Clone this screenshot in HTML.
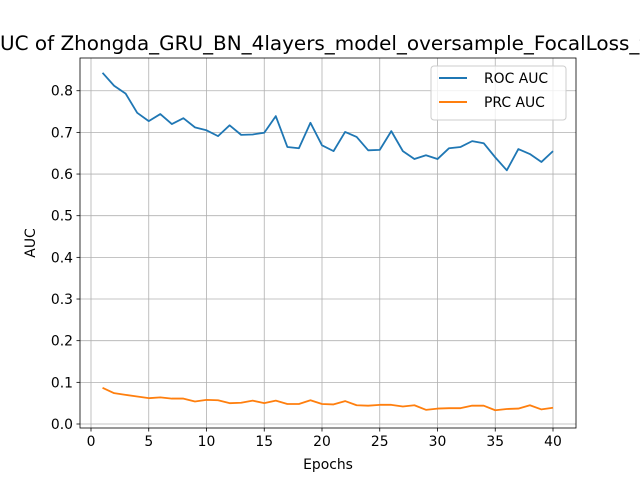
<!DOCTYPE html>
<html><head><meta charset="utf-8"><style>body{margin:0;background:#fff}svg{display:block;font-family:"DejaVu Sans","Liberation Sans",sans-serif}</style></head>
<body>
<svg id="chart" width="640" height="480" viewBox="0 0 640 480">
<rect width="640" height="480" fill="#fff"/>
<text id="title" x="-12" y="50" font-size="16" fill="#000">AUC of Zhongda_GRU_BN_4layers_model_oversample_FocalLoss_test</text>
<g id="grid"></g><g id="series"></g><g id="axes"></g>
<text x="328" y="469" font-size="13.9" text-anchor="middle">Epochs</text>
<text transform="translate(35,243) rotate(-90)" font-size="13.9" text-anchor="middle">AUC</text>
<g>
<rect x="431" y="66" width="135" height="54" rx="3" fill="#fff" fill-opacity="0.8" stroke="#ccc"/>
<line x1="439" y1="78" x2="467" y2="78" stroke="#1f77b4" stroke-width="2"/>
<text x="484" y="83" font-size="13.9">ROC AUC</text>
<line x1="439" y1="102" x2="467" y2="102" stroke="#ff7f0e" stroke-width="2"/>
<text x="484" y="107" font-size="13.9">PRC AUC</text>
</g>
</svg>
<script>
const epochs=[1,2,3,4,5,6,7,8,9,10,11,12,13,14,15,16,17,18,19,20,21,22,23,24,25,26,27,28,29,30,31,32,33,34,35,36,37,38,39,40];
const rocAuc=[0.843,0.812,0.793,0.747,0.727,0.744,0.720,0.734,0.712,0.705,0.691,0.717,0.694,0.695,0.699,0.739,0.665,0.662,0.723,0.669,0.655,0.701,0.689,0.657,0.658,0.703,0.655,0.636,0.645,0.636,0.662,0.665,0.679,0.674,0.640,0.609,0.660,0.648,0.629,0.655];
const prcAuc=[0.087,0.074,0.070,0.066,0.062,0.064,0.061,0.061,0.054,0.058,0.057,0.050,0.051,0.056,0.050,0.056,0.048,0.048,0.057,0.048,0.047,0.055,0.045,0.044,0.046,0.046,0.042,0.045,0.034,0.037,0.038,0.038,0.044,0.044,0.033,0.036,0.037,0.045,0.035,0.039];
const xTicks=[0,5,10,15,20,25,30,35,40];
const yTicks=[0.0,0.1,0.2,0.3,0.4,0.5,0.6,0.7,0.8];
const L=80,R=576,T=58,B=428;
const xs=v=>91+(v-0)*(553-91)/40;
const ys=v=>424-v*416.6;
const NS='http://www.w3.org/2000/svg';
function mk(tag,attrs,parent){const e=document.createElementNS(NS,tag);for(const k in attrs)e.setAttribute(k,attrs[k]);parent.appendChild(e);return e;}
const grid=document.getElementById('grid'),axes=document.getElementById('axes'),series=document.getElementById('series');
xTicks.forEach(t=>{const x=xs(t);
const g=mk('line',{x1:x,x2:x,y1:T,y2:B,stroke:'#b0b0b0','stroke-width':0.8},grid);


mk('line',{x1:x,x2:x,y1:B,y2:B+3.5,stroke:'#000','stroke-width':0.8},axes);
const tx=mk('text',{x:x,y:B+18,'font-size':13.9,'text-anchor':'middle'},axes);tx.textContent=t;

});
yTicks.forEach(t=>{const y=ys(t);
const g=mk('line',{x1:L,x2:R,y1:y,y2:y,stroke:'#b0b0b0','stroke-width':0.8},grid);


mk('line',{x1:L-3.5,x2:L,y1:y,y2:y,stroke:'#000','stroke-width':0.8},axes);
const tx=mk('text',{x:L-7,y:y+5,'font-size':13.9,'text-anchor':'end'},axes);tx.textContent=t.toFixed(1);

});
const fr=mk('rect',{x:L,y:T,width:R-L,height:B-T,fill:'none',stroke:'#000','stroke-width':0.8},axes);


function line(vals,color,name){const p=mk('polyline',{points:vals.map((v,i)=>xs(epochs[i])+','+ys(v)).join(' '),fill:'none',stroke:color,'stroke-width':1.8,'stroke-linejoin':'round'},series);

}
line(rocAuc,'#1f77b4','roc-auc-line');
line(prcAuc,'#ff7f0e','prc-auc-line');
// fit title so "UC ... FocalLoss_" spans 0..640 like the reference
(function(){const t=document.getElementById('title');
try{const n=56;const w=t.getSubStringLength(1,n);const a=t.getSubStringLength(0,1);
const s=16*640/w;t.setAttribute('font-size',s.toFixed(2));
const a2=a*s/16;t.setAttribute('x',(-a2).toFixed(2));}catch(e){}})();
</script>
</body></html>
